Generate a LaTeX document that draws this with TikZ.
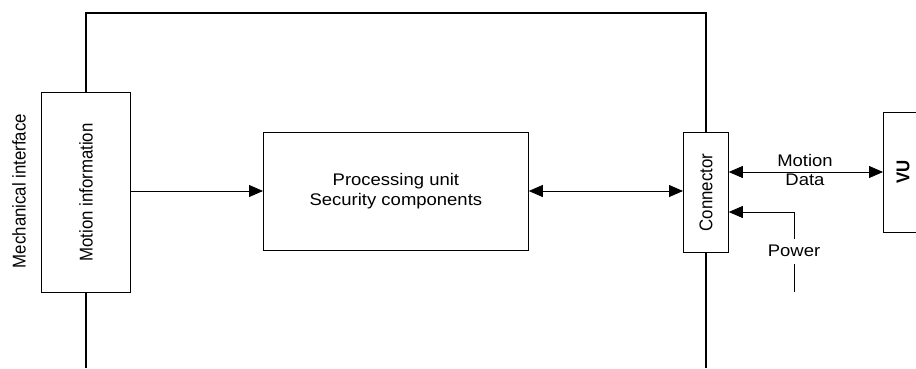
\documentclass[tikz,border=0pt]{standalone}
\usepackage{fontspec}
\usepackage{graphicx}
\setmainfont{Liberation Sans}
\usetikzlibrary{arrows.meta}
\newcommand{\htxt}[1]{\scalebox{1.1}[1]{#1}}
\newcommand{\vtxt}[1]{\scalebox{1.1}[1]{\rotatebox{90}{#1}}}
\begin{document}
\begin{tikzpicture}[x=1pt,y=-1pt,
  box/.style={draw, line width=0.8pt, fill=white, inner sep=0pt, anchor=north west},
  lbl/.style={font=\fontsize{16.8}{19.5}\selectfont, inner sep=0pt},
  frame/.style={line width=2.8pt},
  conn/.style={line width=0.8pt, -{Triangle[length=14pt,width=12pt]}},
  bconn/.style={line width=0.8pt, {Triangle[length=14pt,width=12pt]}-{Triangle[length=14pt,width=12pt]}},
  plain/.style={line width=0.8pt}]
\useasboundingbox (0,0) rectangle (916,368);
% thick frame
\coordinate (fbl) at (86,368);
\coordinate (ftl) at (86,13);
\coordinate (ftr) at (706,13);
\coordinate (fbr) at (706,368);
\draw[frame] (fbl) -- (ftl) -- (ftr) -- (fbr);
% boxes
\node[box, minimum width=89pt, minimum height=200pt] (mi) at (41,92) {};
\node[lbl] (mitxt) at (mi.center) {\vtxt{Motion information}};
\node[lbl] (mech) at (19,191) {\vtxt{Mechanical interface}};
\node[box, minimum width=265pt, minimum height=118pt] (pu) at (263,132) {};
\node[lbl] (putxt) at (pu.center) {\htxt{\begin{tabular}{@{}c@{}}Processing unit\\Security components\end{tabular}}};
\node[box, minimum width=45pt, minimum height=120pt] (cn) at (683,132) {};
\node[lbl] (cntxt) at (cn.center) {\vtxt{Connector}};
\node[box, minimum width=60pt, minimum height=120pt] (vu) at (883,112) {};
\node[lbl, font=\fontsize{16.8}{19.5}\selectfont\bfseries] (vutxt) at (903,172) {\vtxt{VU}};
% connectors
\draw[conn] (mi.east |- 0,191) -- (pu.west |- 0,191);
\draw[bconn] (pu.east |- 0,191) -- (cn.west |- 0,191);
\draw[bconn] (cn.east |- 0,172) -- (vu.west |- 0,172);
\node[lbl] (md) at (805,172) {\htxt{\begin{tabular}{@{}c@{}}Motion\\Data\end{tabular}}};
% power
\coordinate (pbend) at (794,212);
\coordinate (pa) at (794,239);
\coordinate (pb) at (794,264);
\coordinate (pc) at (794,292);
\node[lbl] (pow) at (794,251) {\htxt{Power}};
\draw[conn] (pa) -- (pbend) -- (pbend -| cn.east);
\draw[plain] (pb) -- (pc);
\end{tikzpicture}
\end{document}
